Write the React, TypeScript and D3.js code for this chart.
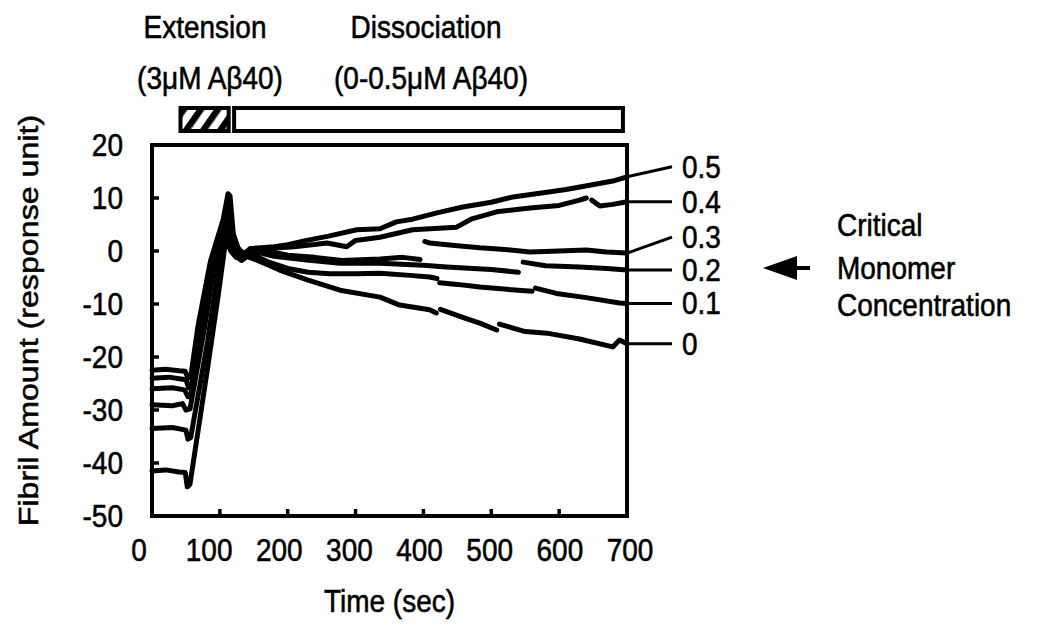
import React from "react";
import * as d3 from "d3";

type Pt = [number, number | null];

// Concentrations (μM Aβ40) of the dissociation series
const concentrations = ["0.5", "0.4", "0.3", "0.2", "0.1", "0"];

// Traces: [time (s), response unit]; null marks a break in the recorded trace
const s05: Pt[] = [[0,-22.5],[20,-22.3],[40,-22.6],[49,-22.7],[53,-24],[57,-23.8],[68,-14],[86,-2],[105,6],[112,10.8],[115,10.4],[120,3],[127,0.5],[135,-0.5],[150,0.5],[180,0.8],[200,1.2],[228,2],[260,2.8],[302,4],[336,4.2],[360,5.5],[384,6],[420,7.2],[458,8.3],[500,9.2],[532,10.2],[582,11.1],[610,11.6],[641,12.3],[679,13.2],[700,14]];
const s04: Pt[] = [[0,-24],[25,-23.8],[45,-24.2],[50,-24.3],[54,-25.8],[58,-25.5],[72,-15],[90,-4],[108,5.5],[113,8],[118,4],[125,1],[133,-0.8],[148,0.3],[175,0.5],[210,0.8],[258,1.5],[287,0.8],[300,2],[336,2.6],[384,4],[449,4.5],[470,6],[508,7.4],[557,8.1],[600,8.6],[630,9.6],[640,10],[642,null],[648,9.6],[660,8.5],[679,8.8],[700,9.3]];
const s03: Pt[] = [[0,-26],[30,-25.8],[48,-26.2],[53,-27.5],[57,-27.2],[75,-14],[92,0],[106,5],[110,6],[116,3],[123,0.5],[131,-1],[145,0.5],[170,0],[200,-0.8],[240,-1.2],[280,-1.8],[336,-1.5],[370,-1.2],[395,-1.6],[398,null],[402,1.8],[409,1.5],[450,1],[483,0.6],[520,0.3],[557,-0.2],[600,0],[640,0.2],[670,-0.2],[700,-0.4]];
const s02: Pt[] = [[0,-29],[30,-29.2],[45,-28.8],[50,-30],[56,-29.8],[78,-14],[95,0],[108,4],[112,4.5],[118,1],[126,-0.5],[134,-1.5],[148,0],[180,-1],[228,-1.7],[277,-2.3],[336,-2.3],[400,-2.7],[434,-3],[500,-3.5],[540,-4],[543,null],[547,-2.1],[580,-2.8],[630,-3],[670,-3.3],[700,-3.6]];
const s01: Pt[] = [[0,-33.5],[30,-33.3],[50,-33.8],[53,-35.5],[57,-35.2],[82,-17],[97,-4],[107,3],[110,3.5],[116,0.5],[124,-1],[132,-1.8],[146,-0.5],[170,-2],[200,-3.3],[230,-4],[262,-4.3],[300,-4.3],[336,-4.2],[380,-4.6],[409,-4.9],[420,-5.2],[422,null],[424,-6],[450,-6.3],[483,-6.8],[530,-7.3],[560,-7.6],[562,null],[565,-7],[596,-8],[640,-8.8],[689,-9.8],[700,-9.9]];
const s00: Pt[] = [[0,-41.5],[20,-41.3],[40,-41.7],[49,-41.8],[52,-44.5],[56,-44],[82,-22],[98,-8],[108,1.5],[111,2],[116,0],[124,-1.2],[140,-1],[160,-2],[188,-3.6],[230,-5.5],[277,-7.4],[336,-8.7],[365,-10.2],[409,-11.1],[419,-11.7],[422,null],[425,-11],[460,-12.6],[483,-13.6],[508,-14.9],[510,null],[512,-13.8],[550,-15.2],[582,-15.5],[630,-16.6],[679,-18.1],[689,-16.8],[700,-17.5]];
const seriesData: Pt[][] = [s05, s04, s03, s02, s01, s00];

// Axis ticks
const xTicks = [0, 100, 200, 300, 400, 500, 600, 700];
const yTicks = [20, 10, 0, -10, -20, -30, -40, -50];

// Experimental phases (s)
const extensionPhase = [42, 113];
const dissociationPhase = [121, 694];

// Layout (not data)
const labelShift = [-10, 0, -16, 0, 0, 0];
const FONT = "'Liberation Sans', Arial, Helvetica, sans-serif";
const FS = 28;
const VS = 1.15; // vertical stretch of the scanned lettering

function T({ x, y, anchor = "start", children, rotate = 0 }: { x: number; y: number; anchor?: string; children: React.ReactNode; rotate?: number }) {
  return (
    <text
      transform={`translate(${x},${y}) scale(1,${VS})${rotate ? ` rotate(${rotate})` : ""}`}
      fontSize={FS}
      textAnchor={anchor}
      fill="#000"
      stroke="#000"
      strokeWidth={0.5}
    >
      {children}
    </text>
  );
}

export default function App() {
  const x = d3.scaleLinear().domain([0, 700]).range([152, 627]);
  const xLab = d3.scaleLinear().domain([0, 700]).range([139, 630]);
  const y = d3.scaleLinear().domain([-50, 20]).range([516, 145]);
  const line = d3
    .line<Pt>()
    .defined((d) => d[1] !== null)
    .x((d) => x(d[0]))
    .y((d) => y(d[1] as number));

  const x0 = x(0), x1 = x(700), yTop = y(20), yBot = y(-50);
  const leaderEnd = 672;

  return (
    <svg width={1050} height={625} style={{ display: "block", position: "absolute", left: 0, top: 0, background: "#fff" }} fontFamily={FONT}>
      <defs>
        <pattern id="hatch" patternUnits="userSpaceOnUse" width={14} height={14} patternTransform="rotate(35)">
          <rect x={0} y={0} width={14} height={14} fill="#fff" />
          <rect x={0} y={0} width={6.5} height={14} fill="#000" />
        </pattern>
      </defs>
      <rect x={0} y={0} width={1050} height={625} fill="#fff" />

      {/* phase annotations */}
      <T x={205} y={38} anchor="middle">Extension</T>
      <T x={426} y={38} anchor="middle">Dissociation</T>
      <T x={210} y={89} anchor="middle">(3μM Aβ40)</T>
      <T x={431} y={89} anchor="middle">(0-0.5μM Aβ40)</T>
      <rect x={x(extensionPhase[0])} y={108} width={x(extensionPhase[1]) - x(extensionPhase[0])} height={23} fill="url(#hatch)" stroke="#000" strokeWidth={4} />
      <rect x={x(dissociationPhase[0])} y={108} width={x(dissociationPhase[1]) - x(dissociationPhase[0])} height={23} fill="#fff" stroke="#000" strokeWidth={4} />

      {/* traces */}
      {seriesData.map((s, i) => (
        <path key={i} d={line(s) || ""} fill="none" stroke="#000" strokeWidth={5} strokeLinejoin="round" strokeLinecap="round" />
      ))}

      {/* frame */}
      <rect x={x0} y={yTop} width={x1 - x0} height={yBot - yTop} fill="none" stroke="#000" strokeWidth={4} />
      {yTicks.slice(1, -1).map((t) => (
        <line key={t} x1={x0} x2={x0 + 7} y1={y(t)} y2={y(t)} stroke="#000" strokeWidth={3.5} />
      ))}
      {xTicks.slice(1, -1).map((t) => (
        <line key={t} x1={x(t)} x2={x(t)} y1={yBot} y2={yBot - 7} stroke="#000" strokeWidth={3.5} />
      ))}

      {/* tick labels */}
      {yTicks.map((t) => (
        <T key={t} x={123} y={y(t) + 11} anchor="end">{t}</T>
      ))}
      {xTicks.map((t) => (
        <T key={t} x={xLab(t)} y={561} anchor="middle">{t}</T>
      ))}

      {/* axis titles */}
      <T x={(x0 + x1) / 2} y={612} anchor="middle">Time (sec)</T>
      <T x={38} y={(yTop + yBot) / 2 - 10} anchor="middle" rotate={-90}>Fibril Amount (response unit)</T>

      {/* series labels with leaders */}
      {seriesData.map((s, i) => {
        const last = s[s.length - 1];
        const ys = y(last[1] as number);
        const yl = ys + labelShift[i];
        return (
          <g key={i}>
            <line x1={x1} y1={ys} x2={leaderEnd} y2={yl} stroke="#000" strokeWidth={3} />
            <T x={682} y={yl + 11}>{concentrations[i]}</T>
          </g>
        );
      })}

      {/* critical monomer concentration annotation */}
      <path d="M763,268 L797,256 L797,280 Z" fill="#000" />
      <line x1={795} y1={268} x2={810} y2={268} stroke="#000" strokeWidth={4} />
      <T x={837} y={236}>Critical</T>
      <T x={837} y={279}>Monomer</T>
      <T x={837} y={316}>Concentration</T>
    </svg>
  );
}
